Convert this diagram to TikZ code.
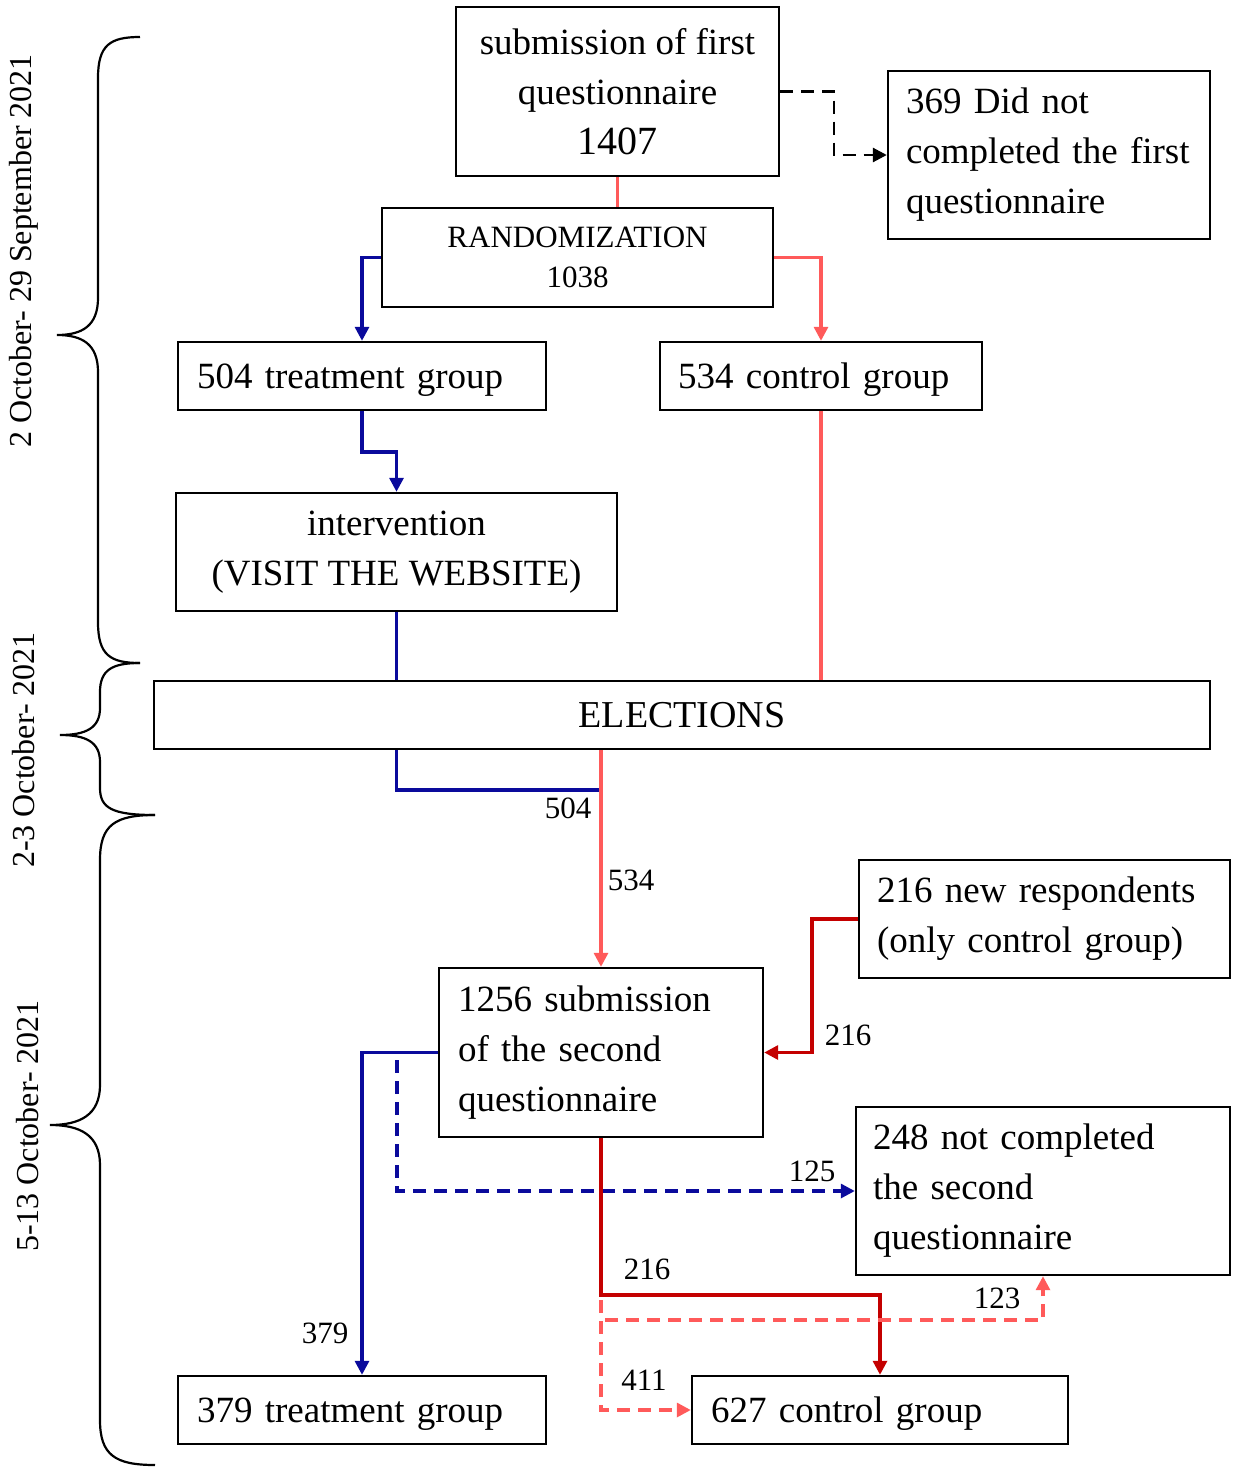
\documentclass[tikz,border=0pt]{standalone}
\usepackage{fontspec}
\setmainfont{Liberation Serif}
\usetikzlibrary{arrows.meta}
\definecolor{navy}{HTML}{0A0A9C}
\definecolor{lred}{HTML}{FF5A5A}
\definecolor{dred}{HTML}{C40000}
\tikzset{
  box/.style={draw=black, line width=2.4pt, rectangle, inner sep=0pt, font=\fontsize{37}{50}\selectfont},
  lbox/.style={box, align=left, text width=#1},
  cbox/.style={box, align=center},
  conn/.style={line width=3.2pt},
  tip/.style={-{Triangle[length=14pt,width=14pt]}},
  dsh/.style={dash pattern=on 13pt off 8pt},
  lab/.style={font=\fontsize{31}{32}\selectfont, inner sep=0pt},
  side/.style={font=\fontsize{32}{34}\selectfont, rotate=90, inner sep=0pt},
  brace/.style={line width=2.2pt}
}
\begin{document}
\begin{tikzpicture}[x=1pt,y=-1pt]
\useasboundingbox (0,0) rectangle (1232,1467);
% boxes
\node[cbox, minimum width=323pt, minimum height=169pt] (sub) at (617.5,91.5)
  {submission of first\\questionnaire\\{\fontsize{40}{50}\selectfont 1407}};
\node[lbox=286pt, minimum width=322pt, minimum height=168pt] (nc1) at (1049,155)
  {369 Did not\\completed the first\\questionnaire};
\node[cbox, minimum width=391pt, minimum height=99pt, font=\fontsize{31}{40}\selectfont] (rand) at (577.5,257.5)
  {RANDOMIZATION\\1038};
\node[lbox=330pt, minimum width=368pt, minimum height=68pt, text depth=0pt] (tg) at (362,376) {504 treatment group};
\node[lbox=286pt, minimum width=322pt, minimum height=68pt, text depth=0pt] (cg) at (821,376) {534 control group};
\node[cbox, minimum width=441pt, minimum height=118pt] (interv) at (396.5,552)
  {intervention\\(VISIT THE WEBSITE)};
\node[cbox, minimum width=1056pt, minimum height=68pt, font=\fontsize{38}{50}\selectfont] (elec) at (682,715) {ELECTIONS};
\node[lbox=286pt, minimum width=324pt, minimum height=169pt] (sec) at (601,1052.5)
  {1256 submission\\of the second\\questionnaire};
\node[lbox=335pt, minimum width=371pt, minimum height=118pt] (newr) at (1044.5,919)
  {216 new respondents\\(only control group)};
\node[lbox=340pt, minimum width=374pt, minimum height=168pt] (nc2) at (1043,1191)
  {248 not completed\\the second\\questionnaire};
\node[lbox=330pt, minimum width=368pt, minimum height=68pt, text depth=0pt] (tg2) at (362,1410) {379 treatment group};
\node[lbox=338pt, minimum width=376pt, minimum height=68pt, text depth=0pt] (cg2) at (880,1410) {627 control group};

% connectors top
\coordinate (k1) at (834,91.5);
\draw[conn, dsh, tip, line width=2.8pt] (sub.east) -- (k1) |- (nc1.west);
\draw[conn, lred] (sub.south) -- (sub.south |- rand.north);
\draw[conn, navy, tip] (rand.west) -| (tg.north);
\draw[conn, lred, tip] (rand.east) -| (cg.north);
\coordinate (k2) at (362,452);
\draw[conn, navy, tip] (tg.south) -- (k2) -| (interv.north);
\draw[conn, navy] (interv.south) -- (interv.south |- elec.north);
\draw[conn, lred] (cg.south) -- (cg.south |- elec.north);

% below elections
\coordinate (k3) at (601,790);
\draw[conn, navy] (interv.south |- elec.south) |- (k3);
\draw[conn, lred, tip] (sec.north |- elec.south) -- (sec.north);
\node[lab] (l504) at (568,808) {504};
\node[lab] (l534) at (631,880) {534};

\coordinate (k4) at (812,919);
\draw[conn, dred, tip] (newr.west) -- (k4) |- (sec.east);
\node[lab] (l216a) at (848,1035) {216};

\draw[conn, navy, tip] (sec.west) -| (tg2.north);
\node[lab] (l379) at (325,1333) {379};
\coordinate (k5) at (397,1060);
\draw[conn, navy, dsh, tip] (k5) |- (nc2.west);
\node[lab] (l125) at (812,1171) {125};

\coordinate (k6) at (601,1295);
\draw[conn, dred, tip] (sec.south) -- (k6) -| (cg2.north);
\node[lab] (l216b) at (647,1269) {216};

\coordinate (k7) at (601,1300);
\draw[conn, lred, dsh, tip] (k7) |- (cg2.west);
\node[lab] (l411) at (644,1380) {411};
\coordinate (k8) at (605,1320);
\draw[conn, lred, dsh, tip] (k8) -| (nc2.south);
\node[lab] (l123) at (997,1298) {123};

% braces
\draw[brace] (140,37) .. controls (110,37) and (98,45) .. (98,78) -- (98,298)
  .. controls (98,326) and (82,335) .. (57,335)
  .. controls (82,335) and (98,344) .. (98,372) -- (98,622)
  .. controls (98,655) and (110,663) .. (140,663);
\draw[brace] (140,663) .. controls (112,663) and (100,670) .. (100,692) -- (100,708)
  .. controls (100,728) and (86,735) .. (60,735)
  .. controls (86,735) and (100,742) .. (100,762) -- (100,788)
  .. controls (100,808) and (112,815) .. (155,815);
\draw[brace] (155,815) .. controls (115,815) and (100,825) .. (100,860) -- (100,1085)
  .. controls (100,1115) and (80,1125) .. (50,1125)
  .. controls (80,1125) and (100,1135) .. (100,1165) -- (100,1420)
  .. controls (100,1455) and (115,1465) .. (155,1465);
\node[side] (s1) at (24,251) {2 October- 29 September 2021};
\node[side] (s2) at (24,750) {2-3 October- 2021};
\node[side] (s3) at (28,1126) {5-13 October- 2021};
\end{tikzpicture}
\end{document}
